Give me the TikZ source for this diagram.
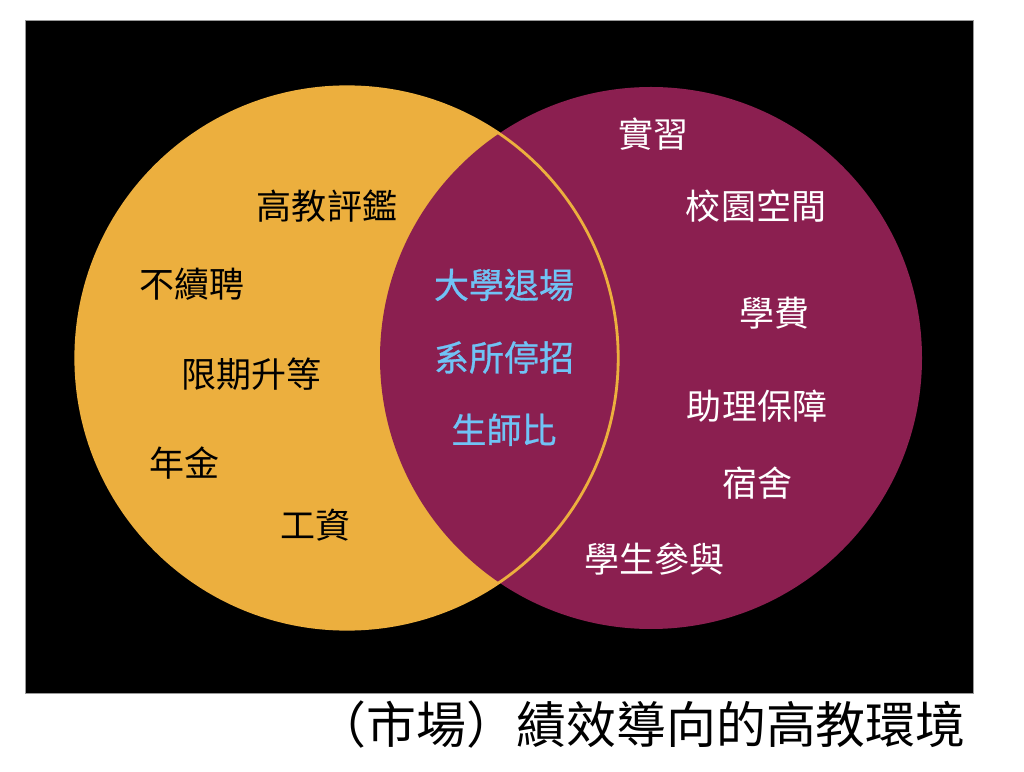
\documentclass[tikz,border=0pt]{standalone}
\usepackage{fontspec}
\usepackage{xcolor}
\usepackage{tikz}
\usetikzlibrary{positioning}
\newfontfamily\cjk{Noto Sans CJK TC}
\newfontfamily\cjkheavy[FakeBold=0.8]{Noto Sans CJK TC}
\definecolor{venngold}{RGB}{236,175,62}
\definecolor{vennwine}{RGB}{139,31,80}
\definecolor{vennblue}{RGB}{112,195,245}
\tikzset{
    term/.style={font=\cjk\fontsize{24.9}{30}\selectfont, inner sep=0pt},
    gold term/.style={term, text=black},
    wine term/.style={term, text=white},
    both term/.style={term, font=\cjkheavy\fontsize{24.9}{30}\selectfont, text=vennblue},
}

\begin{document}
\begin{tikzpicture}
    \useasboundingbox (0,0) rectangle (25.6,19.275);
    \filldraw[fill=black, draw=black!40, line width=0.4pt] (0.625,1.95) rectangle (24.325,18.775);
    % the two sets
    \fill[venngold] (8.675,10.325) circle (6.78);
    \fill[vennwine] (16.275,10.325) circle (6.775);
    \draw[venngold, line width=2pt] (8.675,10.325) circle (6.78);
    % left set
    \node[gold term] (evaluation) at (8.175,14.11) {高教評鑑};
    \node[gold term] (nonrenewal) at (4.81,12.16) {不續聘};
    \node[gold term] (promotion) at (6.29,9.91) {限期升等};
    \node[gold term] (pension) at (4.61,7.71) {年金};
    \node[gold term] (salary) at (7.89,6.14) {工資};
    % overlap
    \node[both term] (closure) at (12.6,12.15) {大學退場};
    \node[both term] (suspension) at (12.6,10.34) {系所停招};
    \node[both term] (ratio) at (12.6,8.53) {生師比};
    % right set
    \node[wine term] (internship) at (16.33,15.91) {實習};
    \node[wine term] (campus) at (18.9,14.11) {校園空間};
    \node[wine term] (tuition) at (19.36,11.45) {學費};
    \node[wine term] (assistants) at (18.925,9.125) {助理保障};
    \node[wine term] (dorms) at (18.925,7.2) {宿舍};
    \node[wine term] (participation) at (16.36,5.29) {學生參與};
    % caption
    \node[font=\cjk\fontsize{35.5}{42}\selectfont, inner sep=0pt, anchor=east] (caption) at (24.15,1.15) {（市場）績效導向的高教環境};
\end{tikzpicture}
\end{document}
